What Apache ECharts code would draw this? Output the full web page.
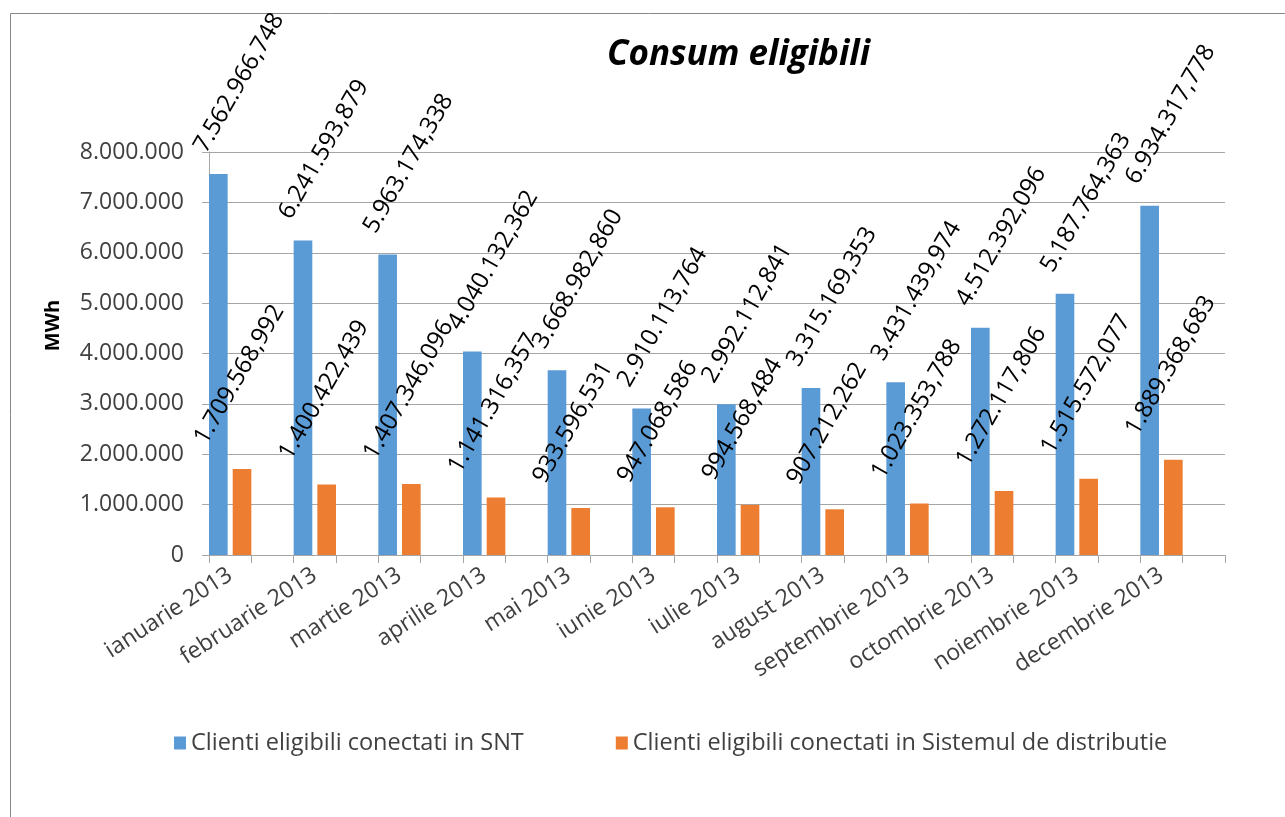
<!DOCTYPE html>
<html>
<head>
<meta charset="utf-8">
<script src="https://cdn.jsdelivr.net/npm/echarts@6/dist/echarts.min.js"></script>
<style>html,body{margin:0;padding:0;background:#fff}#c{width:1285px;height:817px}</style>
</head>
<body>
<div id="c"></div>
<script>
const months = ['ianuarie 2013','februarie 2013','martie 2013','aprilie 2013','mai 2013','iunie 2013','iulie 2013','august 2013','septembrie 2013','octombrie 2013','noiembrie 2013','decembrie 2013'];
const snt = [7562966.748, 6241593.879, 5963174.338, 4040132.362, 3668982.860, 2910113.764, 2992112.841, 3315169.353, 3431439.974, 4512392.096, 5187764.363, 6934317.778];
const distributie = [1709568.992, 1400422.439, 1407346.096, 1141316.357, 933596.531, 947068.586, 994568.484, 907212.262, 1023353.788, 1272117.806, 1515572.077, 1889368.683];
const seriesNames = ['Clienti eligibili conectati in SNT', 'Clienti eligibili conectati in Sistemul de distributie'];
const titleText = 'Consum eligibili';
const yName = 'MWh';
const yMin = 0, yMax = 8000000, yStep = 1000000;

function grp(s){ return s.replace(/\B(?=(\d{3})+(?!\d))/g, '.'); }
function fmtVal(n){ const p = n.toFixed(3).split('.'); return grp(p[0]) + ',' + p[1]; }

// source sheet has an empty column after every month
const cats = months.flatMap(m => [m, '']);
const sntData = snt.flatMap(v => [v, '-']);
const distData = distributie.flatMap(v => [v, '-']);

const FONT = 'Open Sans';
function lbl(off) {
  return {
    show: true, position: 'top', rotate: 60, align: 'left', verticalAlign: 'middle',
    offset: off, fontSize: 24, color: '#000', fontFamily: FONT,
    formatter: p => fmtVal(p.value)
  };
}

const chart = echarts.init(document.getElementById('c'));
chart.setOption({
  backgroundColor: '#fff',
  animation: false,
  graphic: [{ type: 'rect', shape: { x: 10.5, y: 13.5, width: 1400, height: 1000 }, style: { fill: 'none', stroke: '#888', lineWidth: 1 } }],
  title: {
    text: titleText, left: 602, top: 33,
    textStyle: { fontFamily: FONT, fontSize: 35, fontWeight: 'bold', fontStyle: 'italic', color: '#000' }
  },
  legend: {
    data: seriesNames, left: 169, top: 726, itemGap: 92, icon: 'rect', itemWidth: 12, itemHeight: 13,
    textStyle: { fontFamily: FONT, fontSize: 23.5, color: '#404040' }
  },
  grid: { left: 209, right: 60, top: 152, bottom: 262, containLabel: false },
  xAxis: {
    type: 'category', data: cats, boundaryGap: true,
    axisLine: { lineStyle: { color: '#a6a6a6', width: 1 } },
    axisTick: { show: true, interval: 0, length: 8, lineStyle: { color: '#a6a6a6' } },
    axisLabel: { interval: 0, rotate: 33, margin: 18, fontFamily: FONT, fontSize: 23, color: '#404040' }
  },
  yAxis: {
    type: 'value', min: yMin, max: yMax, interval: yStep,
    name: yName, nameLocation: 'middle', nameGap: 146, nameRotate: 90,
    nameTextStyle: { fontFamily: FONT, fontSize: 20, fontWeight: 'bold', color: '#000', padding: [0, 0, 0, 56] },
    axisLine: { show: true, lineStyle: { color: '#a6a6a6' } },
    axisTick: { show: true, length: 7, lineStyle: { color: '#a6a6a6' } },
    splitLine: { lineStyle: { color: '#a6a6a6', width: 1 } },
    axisLabel: { margin: 25, fontFamily: FONT, fontSize: 23, color: '#404040', formatter: v => grp(String(v)) }
  },
  series: [
    { name: seriesNames[0], type: 'bar', data: sntData, itemStyle: { color: '#5b9bd5' }, barGap: '27%', barCategoryGap: '0%', label: lbl([7, -25]) },
    { name: seriesNames[1], type: 'bar', data: distData, itemStyle: { color: '#ed7d31' }, label: lbl([-2, -47]) }
  ]
});
</script>
</body>
</html>
